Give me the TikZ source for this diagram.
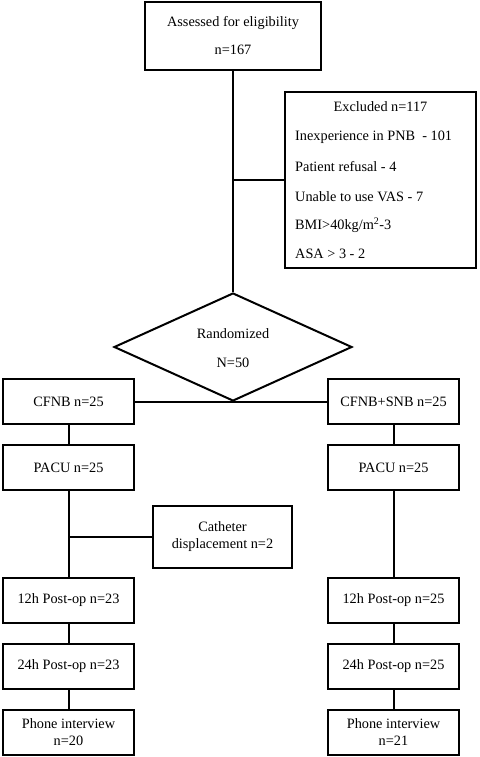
\documentclass[tikz,border=0pt]{standalone}
\usepackage{fontspec}
\setmainfont{Liberation Serif}
\usetikzlibrary{shapes.geometric}
\begin{document}
\begin{tikzpicture}[x=1pt,y=-1pt,
  every node/.style={font=\fontsize{14.3}{17}\selectfont},
  box/.style={draw,line width=2pt,inner sep=0pt,align=center},
  txt/.style={inner sep=0pt,anchor=west},
  conn/.style={line width=2pt}]
\useasboundingbox (0,0) rectangle (479,757);
% top
\node[box,minimum width=176,minimum height=68] (assess) at (233,36) {Assessed for eligibility\\[11pt]n=167};
\node[box,minimum width=191,minimum height=176] (excl) at (380.5,180) {};
\node[inner sep=0pt] (t0) at (380.5,107) {Excluded n=117};
\node[txt] (t1) at (295,137) {Inexperience in PNB \ - 101};
\node[txt] (t2) at (295,167) {Patient refusal - 4};
\node[txt] (t3) at (295,197) {Unable to use VAS - 7};
\node[txt] (t4) at (295,225) {BMI>40kg/m\textsuperscript{2}-3};
\node[txt] (t5) at (295,254) {ASA > 3 - 2};
\node[draw,line width=2pt,diamond,aspect=2.2,minimum width=238,minimum height=108,inner sep=0pt] (rand) at (233,347) {};
\node[inner sep=0pt] (r1) at (233,334) {Randomized};
\node[inner sep=0pt] (r2) at (233,363) {N=50};
% left column
\node[box,minimum width=131,minimum height=45] (l1) at (68.5,401.5) {CFNB n=25};
\node[box,minimum width=131,minimum height=45] (l2) at (68.5,467.5) {PACU n=25};
\node[box,minimum width=139,minimum height=62] (cath) at (222.5,537) {Catheter\\displacement n=2};
\node[box,minimum width=131,minimum height=45] (l3) at (68.5,600.5) {12h Post-op n=23};
\node[box,minimum width=131,minimum height=45] (l4) at (68.5,666.5) {24h Post-op n=23};
\node[box,minimum width=131,minimum height=45] (l5) at (68.5,732.5) {Phone interview\\n=20};
% right column
\node[box,minimum width=131,minimum height=45] (r1b) at (393.5,401.5) {CFNB+SNB n=25};
\node[box,minimum width=131,minimum height=45] (r2b) at (393.5,467.5) {PACU n=25};
\node[box,minimum width=131,minimum height=45] (r3b) at (393.5,600.5) {12h Post-op n=25};
\node[box,minimum width=131,minimum height=45] (r4b) at (393.5,666.5) {24h Post-op n=25};
\node[box,minimum width=131,minimum height=45] (r5b) at (393.5,732.5) {Phone interview\\n=21};
% connectors
\draw[conn] (assess.south) -- (rand.north);
\draw[conn] (excl.west) -- (excl.west -| assess.south);
\draw[conn] (l1.east) -- (r1b.west);
\draw[conn] (l1) -- (l2);
\draw[conn] (l2) -- (l3);
\draw[conn] (cath.west) -- (cath.west -| l2.south);
\draw[conn] (l3) -- (l4);
\draw[conn] (l4) -- (l5);
\draw[conn] (r1b) -- (r2b);
\draw[conn] (r2b) -- (r3b);
\draw[conn] (r3b) -- (r4b);
\draw[conn] (r4b) -- (r5b);
\end{tikzpicture}
\end{document}
